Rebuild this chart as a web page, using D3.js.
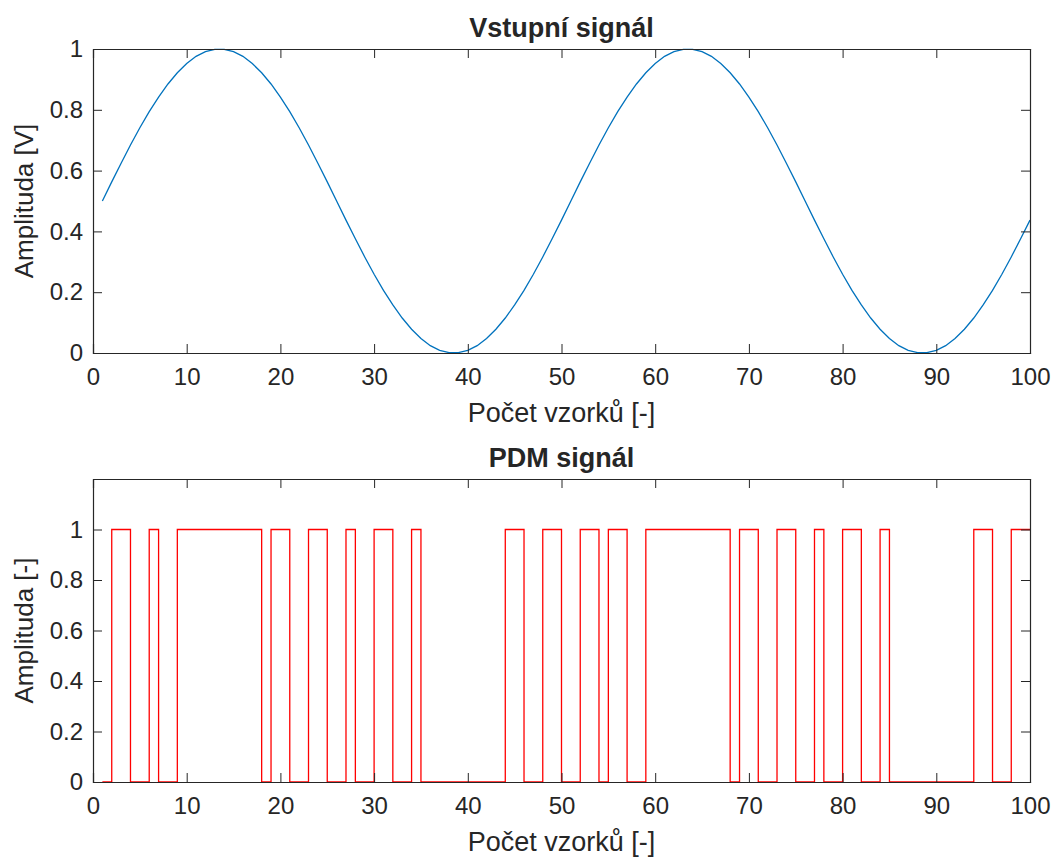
<!DOCTYPE html>
<html>
<head>
<meta charset="utf-8">
<script src="https://cdn.jsdelivr.net/npm/d3@7"></script>
<style>
  body { margin: 0; background: #fff; }
  svg { display: block; }
  text { font-family: "Liberation Sans", Arial, Helvetica, sans-serif; fill: #262626; }
</style>
</head>
<body>
<svg id="chart"></svg>
<script>
// sample index (Počet vzorků)
const samples = d3.range(1, 101);

// input signal
const inputSignal = [
  0.500, 0.563, 0.624, 0.684, 0.741, 0.794, 0.842, 0.885, 0.922, 0.952,
  0.976, 0.991, 0.999, 0.999, 0.991, 0.976, 0.952, 0.922, 0.885, 0.842,
  0.794, 0.741, 0.684, 0.624, 0.563, 0.500, 0.437, 0.376, 0.316, 0.259,
  0.206, 0.158, 0.115, 0.078, 0.048, 0.024, 0.009, 0.001, 0.001, 0.009,
  0.024, 0.048, 0.078, 0.115, 0.158, 0.206, 0.259, 0.316, 0.376, 0.437,
  0.500, 0.563, 0.624, 0.684, 0.741, 0.794, 0.842, 0.885, 0.922, 0.952,
  0.976, 0.991, 0.999, 0.999, 0.991, 0.976, 0.952, 0.922, 0.885, 0.842,
  0.794, 0.741, 0.684, 0.624, 0.563, 0.500, 0.437, 0.376, 0.316, 0.259,
  0.206, 0.158, 0.115, 0.078, 0.048, 0.024, 0.009, 0.001, 0.001, 0.009,
  0.024, 0.048, 0.078, 0.115, 0.158, 0.206, 0.259, 0.316, 0.376, 0.437
];

// PDM output bits (stairs)
const pdmSignal = [
  0, 1, 1, 0, 0, 1, 0, 0, 1, 1,
  1, 1, 1, 1, 1, 1, 1, 0, 1, 1,
  0, 0, 1, 1, 0, 0, 1, 0, 0, 1,
  1, 0, 0, 1, 0, 0, 0, 0, 0, 0,
  0, 0, 0, 1, 1, 0, 0, 1, 1, 0,
  0, 1, 1, 0, 1, 1, 0, 0, 1, 1,
  1, 1, 1, 1, 1, 1, 1, 0, 1, 1,
  0, 0, 1, 1, 0, 0, 1, 0, 0, 1,
  1, 0, 0, 1, 0, 0, 0, 0, 0, 0,
  0, 0, 0, 1, 1, 0, 0, 1, 1, 1
];

const xTicks = d3.range(0, 101, 10);
const yTicks = [0, 0.2, 0.4, 0.6, 0.8, 1];

const width = 1062, height = 860;
const svg = d3.select('#chart').attr('width', width).attr('height', height);

function drawPanel(cfg) {
  const x = d3.scaleLinear().domain([0, 100]).range([cfg.left, cfg.right]);
  const y = d3.scaleLinear().domain(cfg.yDomain).range([cfg.bottom, cfg.top]);
  const g = svg.append('g');
  const tickLen = 9;

  // data line
  const line = d3.line()
    .x((d, i) => x(samples[i]))
    .y(d => y(d))
    .curve(cfg.curve);
  g.append('path')
    .datum(cfg.values)
    .attr('d', line)
    .attr('fill', 'none')
    .attr('stroke', cfg.color)
    .attr('stroke-width', 1.3);

  // box axes, ticks pointing inward like MATLAB
  const bottomAxis = d3.axisBottom(x).tickValues(xTicks).tickSize(-tickLen).tickPadding(15).tickFormat(d3.format('d'));
  const topAxis = d3.axisTop(x).tickValues(xTicks).tickSize(-tickLen).tickFormat('');
  const leftAxis = d3.axisLeft(y).tickValues(yTicks).tickSize(-tickLen).tickPadding(10).tickFormat(d => d3.format('~g')(d));
  const rightAxis = d3.axisRight(y).tickValues(yTicks).tickSize(-tickLen).tickFormat('');

  const axes = [
    g.append('g').attr('transform', `translate(0,${cfg.bottom})`).call(bottomAxis),
    g.append('g').attr('transform', `translate(0,${cfg.top})`).call(topAxis),
    g.append('g').attr('transform', `translate(${cfg.left},0)`).call(leftAxis),
    g.append('g').attr('transform', `translate(${cfg.right},0)`).call(rightAxis)
  ];
  axes.forEach(a => {
    a.select('.domain').attr('stroke', '#262626').attr('stroke-width', 1.2);
    a.selectAll('.tick line').attr('stroke', '#262626');
    a.selectAll('.tick text').style('font-size', '24px').attr('fill', '#333');
    a.selectAll('.tick').filter(d => d === 0 || d === 100).select('line').remove();
  });
  // remove outer tick stubs (domain path ends)
  axes.forEach(a => a.select('.domain').attr('d', function () {
    return d3.select(this).attr('d').replace(/[VH]-?9/g, m => m[0] + '0');
  }));

  // title
  g.append('text')
    .attr('x', (cfg.left + cfg.right) / 2)
    .attr('y', cfg.top - 12)
    .attr('text-anchor', 'middle')
    .style('font-size', '27px')
    .style('font-weight', 'bold')
    .attr('fill', '#000')
    .text(cfg.title);

  // x label
  g.append('text')
    .attr('x', (cfg.left + cfg.right) / 2)
    .attr('y', cfg.bottom + 69)
    .attr('text-anchor', 'middle')
    .style('font-size', '27px')
    .attr('fill', '#333')
    .text(cfg.xLabel);

  // y label
  g.append('text')
    .attr('transform', `translate(33,${(cfg.top + cfg.bottom) / 2}) rotate(-90)`)
    .attr('text-anchor', 'middle')
    .style('font-size', '26px')
    .attr('fill', '#333')
    .text(cfg.yLabel);
}

drawPanel({
  left: 93, right: 1030, top: 49, bottom: 353,
  yDomain: [0, 1],
  values: inputSignal,
  color: '#0072BD',
  curve: d3.curveLinear,
  title: 'Vstupní signál',
  xLabel: 'Počet vzorků [-]',
  yLabel: 'Amplituda [V]'
});

drawPanel({
  left: 93, right: 1030, top: 479, bottom: 782,
  yDomain: [0, 1.2],
  values: pdmSignal,
  color: '#FF0000',
  curve: d3.curveStepAfter,
  title: 'PDM signál',
  xLabel: 'Počet vzorků [-]',
  yLabel: 'Amplituda [-]'
});
</script>
</body>
</html>
